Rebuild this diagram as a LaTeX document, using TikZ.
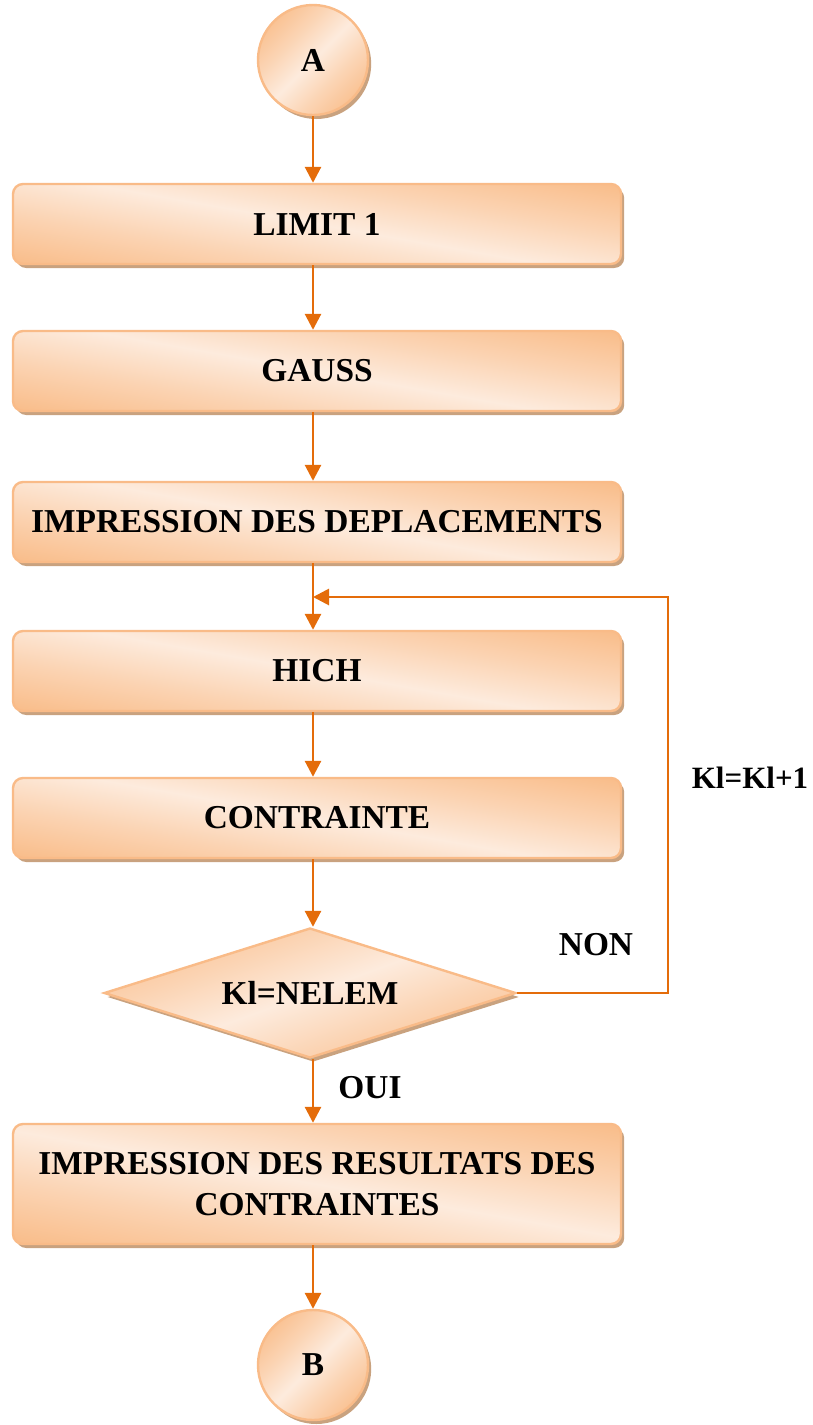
\documentclass[tikz,border=0pt]{standalone}
\usepackage{fontspec}
\setmainfont{Liberation Serif}
\usetikzlibrary{arrows.meta,shapes.geometric,shadows}

\definecolor{peachdark}{HTML}{F9BE8C}
\definecolor{peachmid}{HTML}{FBD3B2}
\definecolor{peachlight}{HTML}{FDEBDD}
\definecolor{peachline}{HTML}{F9BB88}
\definecolor{shadowbrown}{HTML}{C9A27F}
\definecolor{flow}{HTML}{E46C0A}

% pale band through the middle, warmer towards two opposite corners
\pgfdeclarehorizontalshading{peachband}{100bp}{%
  color(0bp)=(peachdark); color(22bp)=(peachdark); color(36bp)=(peachmid);
  color(50bp)=(peachlight); color(64bp)=(peachmid); color(78bp)=(peachdark);
  color(100bp)=(peachdark)}

\begin{document}
\begin{tikzpicture}[x=0.5pt,y=-0.5pt,
  every node/.style={font=\fontsize{16.7}{20.5}\selectfont\bfseries},
  peachfill/.style={shading=peachband, draw=peachline, line width=1.2pt,
    drop shadow={shadow xshift=1.6pt, shadow yshift=-2pt, fill=shadowbrown, opacity=1}},
  stepbox/.style={peachfill, shading angle=80, rectangle, rounded corners=5pt,
    minimum width=304pt, minimum height=40pt, inner sep=2pt, align=center},
  connector/.style={circle, peachfill, shading angle=-45, minimum size=55pt, inner sep=0pt},
  test/.style={diamond, peachfill, shading angle=-70, aspect=3.17, minimum width=206pt,
    minimum height=65pt, inner sep=0pt},
  arr/.style={draw=flow, line width=1.4pt,
    -{Triangle[width=8pt,length=8pt,fill=flow]}},
  lbl/.style={inner sep=0pt}]

\useasboundingbox (0,0) rectangle (813,1425);

% terminals, steps and the test
\node[connector] (A) at (313,60) {A};
\node[stepbox] (b1) at (317,224) {LIMIT 1};
\node[stepbox] (b2) at (317,371) {GAUSS};
\node[stepbox] (b3) at (317,522) {IMPRESSION DES DEPLACEMENTS};
\node[stepbox] (b4) at (317,671) {HICH};
\node[stepbox] (b5) at (317,818) {CONTRAINTE};
\node[test] (d) at (310,993) {Kl=NELEM};
\node[stepbox, minimum height=60pt] (b6) at (317,1184)
  {IMPRESSION DES RESULTATS DES\\CONTRAINTES};
\node[connector] (B) at (313,1365) {B};

% main vertical flow
\draw[arr] (A.south) -- (A.south |- b1.north);
\draw[arr] (A.south |- b1.south) -- (A.south |- b2.north);
\draw[arr] (A.south |- b2.south) -- (A.south |- b3.north);
\draw[arr] (A.south |- b3.south) -- (A.south |- b4.north);
\draw[arr] (A.south |- b4.south) -- (A.south |- b5.north);
\draw[arr] (A.south |- b5.south) -- (A.south |- d.north);
\draw[arr] (A.south |- d.south) -- (A.south |- b6.north);
\draw[arr] (A.south |- b6.south) -- (B.north);

% loop back when the test fails
\coordinate (loopR) at (668,597);
\coordinate (merge) at (313,597);
\draw[arr] (d.east) -| (loopR) -- (merge);

% branch labels
\node[lbl] (non) at (596,945) {NON};
\node[lbl] (oui) at (370,1088) {OUI};
\node[lbl, font=\fontsize{15.5}{18}\selectfont\bfseries] (incr) at (750,778) {Kl=Kl+1};
\end{tikzpicture}
\end{document}
